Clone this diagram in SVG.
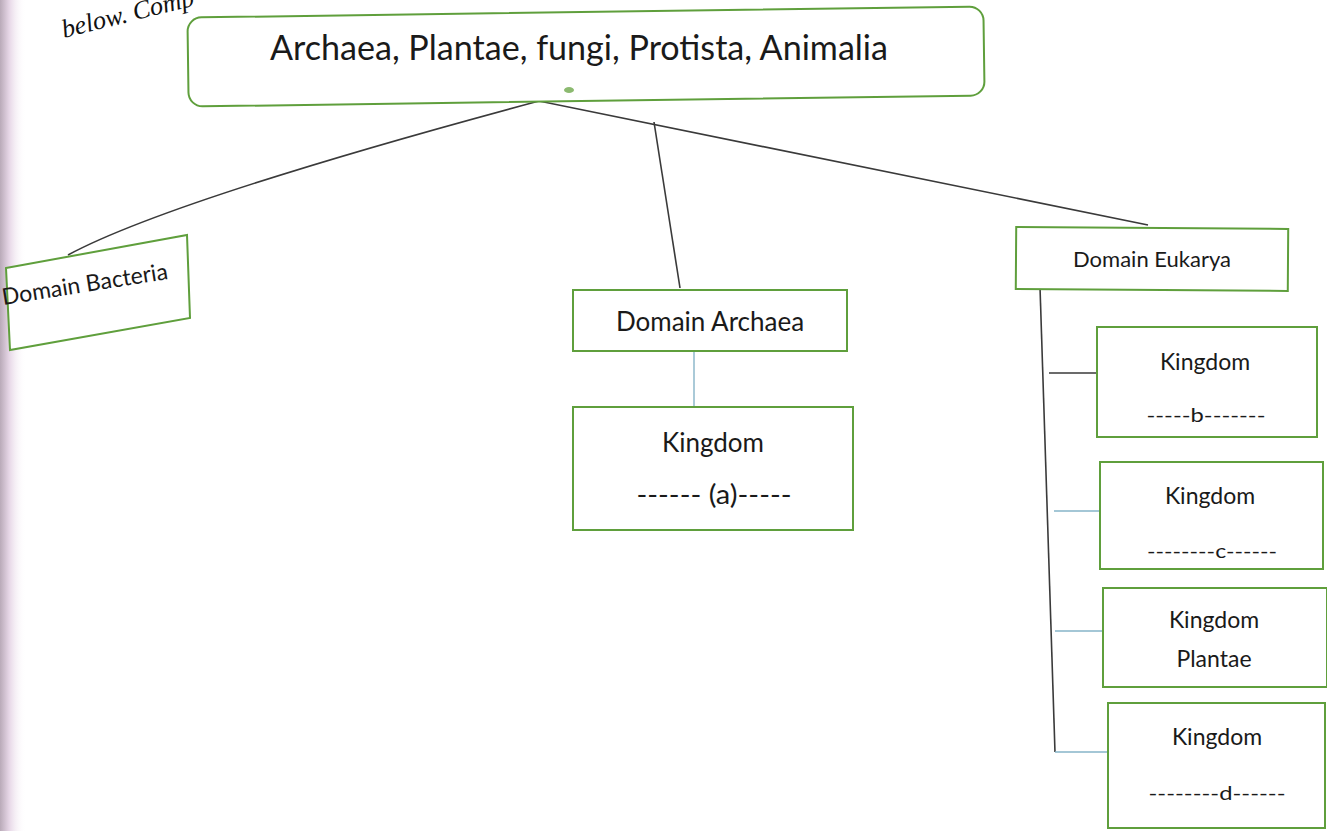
<svg xmlns="http://www.w3.org/2000/svg" width="1327" height="831" viewBox="0 0 1327 831">
<defs>
<linearGradient id="edge" x1="0" y1="0" x2="1" y2="0">
<stop offset="0" stop-color="#b9aab8"/>
<stop offset="0.35" stop-color="#e6d6e6"/>
<stop offset="1" stop-color="#ffffff" stop-opacity="0"/>
</linearGradient>
</defs>
<style>
.box{fill:#ffffff;stroke:#5f9f3c;stroke-width:2}
.t{font-family:Lato,"Open Sans","Liberation Sans",sans-serif;fill:#1a1a1a;text-anchor:middle}
.blk{stroke:#3a3a3a;stroke-width:1.6;fill:none}
.blu{stroke:#86b4c8;stroke-width:1.4;fill:none}
</style>
<rect width="1327" height="831" fill="#ffffff"/>
<rect x="0" y="0" width="26" height="831" fill="url(#edge)"/>
<text x="64" y="38" transform="rotate(-14 64 38)" font-family="Liberation Serif,serif" font-style="italic" font-size="26" fill="#111">below. Comp</text>

<g id="connectors">
<path class="blk" d="M68,255 Q170,200 539,101 L1148,225"/>
<path class="blk" d="M654,122 L680,288"/>
<path class="blk" d="M1040,287 L1055,752"/>
<path class="blk" d="M1049,373 L1097,373"/>
<path class="blu" d="M694,351 L694,407"/>
<path class="blu" d="M1054,511 L1100,511"/>
<path class="blu" d="M1055,631 L1103,631"/>
<path class="blu" d="M1055,752 L1108,752"/>
</g>

<g id="top">
<rect class="box" x="188" y="12" width="796" height="89" rx="14" transform="rotate(-0.8 586 56)"/>
<ellipse cx="569" cy="90" rx="5" ry="3" fill="#8cba70"/>
<text class="t" x="579" y="60" font-size="34" textLength="618" lengthAdjust="spacingAndGlyphs">Archaea, Plantae, fungi, Protista, Animalia</text>
</g>

<g id="bacteria">
<path class="box" d="M6,268 L187,235 L190,318 L10,350 Z"/>
<text class="t" x="86" y="292" font-size="23" transform="rotate(-9 86 292)">Domain Bacteria</text>
</g>

<g id="archaea">
<rect class="box" x="573" y="290" width="274" height="61"/>
<text class="t" x="710" y="331" font-size="26">Domain Archaea</text>
</g>

<g id="kingdom-a">
<rect class="box" x="573" y="407" width="280" height="123"/>
<text class="t" x="713" y="452" font-size="26">Kingdom</text>
<text class="t" x="714" y="504" font-size="26" textLength="155" lengthAdjust="spacingAndGlyphs">------ (a)-----</text>
</g>

<g id="eukarya">
<rect class="box" x="1016" y="228" width="272" height="62" transform="rotate(0.4 1152 259)"/>
<text class="t" x="1152" y="267" font-size="22">Domain Eukarya</text>
</g>

<g id="kingdom-b">
<rect class="box" x="1097" y="327" width="220" height="110"/>
<text class="t" x="1205" y="370" font-size="23">Kingdom</text>
<text class="t" x="1206" y="422" font-size="20" textLength="119" lengthAdjust="spacingAndGlyphs">-----b-------</text>
</g>

<g id="kingdom-c">
<rect class="box" x="1100" y="462" width="223" height="107"/>
<text class="t" x="1210" y="504" font-size="23">Kingdom</text>
<text class="t" x="1212" y="558" font-size="20" textLength="130" lengthAdjust="spacingAndGlyphs">--------c------</text>
</g>

<g id="kingdom-plantae">
<rect class="box" x="1103" y="588" width="224" height="99"/>
<text class="t" x="1214" y="628" font-size="23">Kingdom</text>
<text class="t" x="1214" y="667" font-size="23">Plantae</text>
</g>

<g id="kingdom-d">
<rect class="box" x="1108" y="703" width="217" height="125"/>
<text class="t" x="1217" y="745" font-size="23">Kingdom</text>
<text class="t" x="1217" y="800" font-size="20" textLength="137" lengthAdjust="spacingAndGlyphs">--------d------</text>
</g>
</svg>
